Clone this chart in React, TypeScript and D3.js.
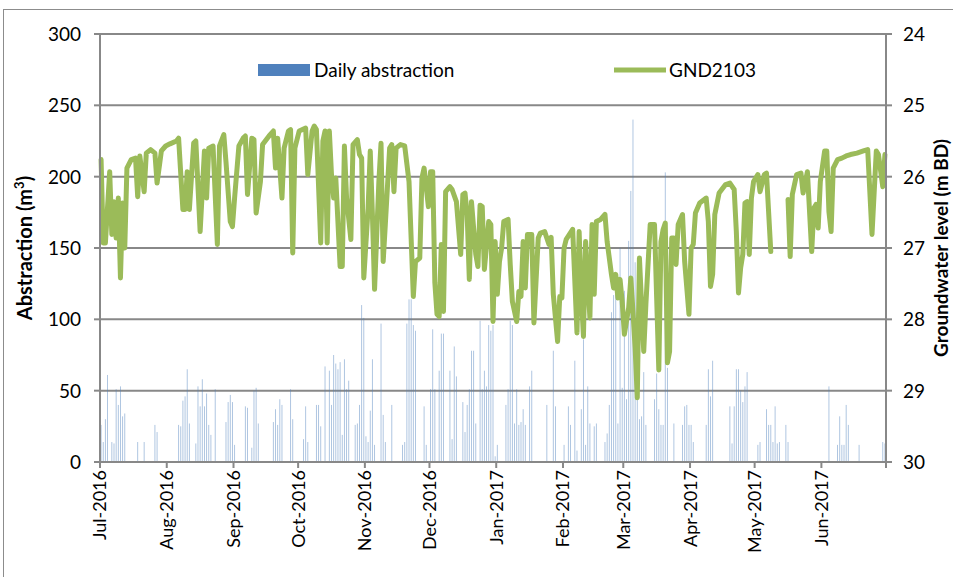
import React, { useEffect, useRef } from 'react';
import * as d3 from 'd3';

// first day of the record, and end of the time axis
const START = new Date(Date.UTC(2016, 6, 1));
const END = new Date(Date.UTC(2017, 6, 1));

// daily abstraction (m3), one value per day, month by month
const abstractionJul = [26, 14, 30, 61, 0, 14, 13, 51, 40, 53, 32, 34, 0, 0, 0, 0, 0, 14, 0, 0, 14, 0, 0, 0, 0, 26, 21, 0, 0, 0, 0];
const abstractionAug = [0, 0, 0, 0, 0, 26, 25, 43, 46, 65, 27, 0, 0, 13, 53, 39, 58, 39, 48, 26, 19, 0, 51, 0, 0, 0, 0, 28, 42, 47, 42];
const abstractionSep = [12, 0, 0, 0, 0, 39, 38, 0, 10, 50, 52, 27, 0, 0, 0, 0, 0, 0, 28, 37, 26, 44, 40, 0, 0, 0, 51, 30, 0, 0];
const abstractionOct = [0, 0, 16, 39, 14, 0, 0, 0, 40, 40, 25, 0, 67, 0, 64, 40, 75, 69, 65, 70, 19, 72, 51, 57, 0, 0, 26, 27, 40, 110, 101];
const abstractionNov = [18, 14, 36, 72, 12, 0, 0, 97, 33, 14, 0, 0, 40, 0, 0, 0, 0, 12, 14, 97, 114, 114, 96, 92, 0, 0, 0, 39, 12, 0];
const abstractionDec = [51, 93, 51, 0, 64, 90, 90, 0, 0, 64, 16, 81, 60, 0, 0, 42, 21, 40, 51, 78, 78, 27, 0, 99, 51, 64, 53, 96, 92, 96, 4];
const abstractionJan = [12, 0, 0, 0, 40, 51, 99, 96, 27, 51, 26, 28, 37, 26, 0, 53, 64, 0, 0, 0, 0, 0, 0, 40, 0, 0, 78, 39, 0, 0, 0];
const abstractionFeb = [12, 0, 39, 26, 0, 71, 8, 0, 37, 86, 12, 53, 27, 0, 25, 27, 0, 0, 0, 14, 20, 40, 105, 117, 133, 27, 150, 52];
const abstractionMar = [120, 44, 155, 190, 240, 140, 104, 30, 32, 63, 26, 0, 0, 0, 44, 62, 37, 26, 26, 203, 66, 0, 0, 27, 0, 0, 0, 26, 39, 40, 26];
const abstractionApr = [26, 14, 0, 0, 0, 0, 0, 26, 65, 46, 71, 0, 0, 0, 0, 0, 0, 0, 39, 13, 39, 65, 65, 50, 42, 53, 63, 0, 0, 0];
const abstractionMay = [0, 12, 14, 0, 0, 37, 26, 26, 14, 39, 13, 14, 0, 0, 26, 14, 0, 0, 0, 0, 0, 0, 0, 0, 0, 0, 0, 0, 0, 0, 0];
const abstractionJun = [0, 0, 0, 53, 0, 0, 0, 12, 32, 12, 12, 40, 26, 0, 0, 0, 0, 12, 0, 0, 0, 0, 0, 0, 0, 0, 0, 0, 14, 13];

const abstraction = [
    ...abstractionJul, ...abstractionAug, ...abstractionSep, ...abstractionOct,
    ...abstractionNov, ...abstractionDec, ...abstractionJan, ...abstractionFeb,
    ...abstractionMar, ...abstractionApr, ...abstractionMay, ...abstractionJun,
];

// GND2103 groundwater level (m BD): [day since 1 Jul 2016, level]; null = no reading (gap)
const gnd2103: [number, number | null][] = [
    [0, 25.76], [1, 26.93], [2, 26.93], [4, 25.93], [5, 26.81], [6, 26.35], [7, 26.86], [8, 26.30], [9, 27.42], [10, 26.37],
    [11, 27.00], [12, 25.88], [14, 25.76], [16, 25.74], [17, 26.28], [18, 25.71], [20, 26.21], [21, 25.67], [23, 25.62], [25, 25.67],
    [26, 26.09], [28, 25.64], [30, 25.57], [32, 25.54], [35, 25.50], [36, 25.46], [38, 26.46], [39, 26.46], [40, 25.93], [41, 26.46],
    [43, 25.53], [44, 25.50], [46, 26.77], [48, 25.64], [49, 26.30], [50, 25.60], [52, 25.57], [54, 26.95], [55, 25.57], [57, 25.41],
    [58, 25.79], [60, 26.63], [61, 26.70], [62, 26.30], [64, 25.57], [66, 25.46], [67, 25.43], [68, 26.25], [70, 25.46], [71, 25.48],
    [72, 26.51], [74, 26.07], [75, 25.55], [78, 25.43], [80, 25.36], [81, 25.88], [82, 25.46], [84, 26.30], [85, 25.60], [87, 25.36],
    [88, 25.34], [89, 27.07], [90, 25.60], [92, 25.36], [95, 25.32], [96, 25.97], [98, 25.36], [99, 25.29], [100, 25.34], [102, 26.93],
    [103, 25.50], [104, 25.36], [105, 26.93], [106, 25.36], [107, 25.97], [108, 26.30], [109, 26.02], [111, 27.26], [112, 27.26], [113, 25.57],
    [114, 26.30], [116, 26.88], [117, 25.55], [119, 25.48], [120, 25.69], [121, 25.74], [122, 27.42], [124, 26.44], [125, 25.64], [126, 26.53],
    [127, 27.58], [129, 26.07], [130, 25.53], [131, 27.19], [132, 26.67], [134, 25.60], [135, 25.55], [136, 26.21], [137, 25.60], [139, 25.55],
    [141, 25.57], [143, 26.07], [145, 27.68], [146, 27.19], [148, 27.14], [149, 26.02], [150, 25.88], [152, 26.42], [153, 25.93], [154, 25.93],
    [155, 27.49], [156, 27.93], [157, 27.96], [158, 26.95], [159, 27.89], [160, 26.21], [162, 26.14], [163, 26.18], [165, 26.35], [167, 27.09],
    [168, 26.25], [169, 26.23], [170, 26.53], [171, 27.44], [172, 26.35], [174, 27.09], [175, 27.26], [176, 26.40], [177, 26.42], [178, 27.30],
    [180, 26.63], [181, 26.67], [182, 28.03], [183, 26.91], [184, 27.65], [185, 27.19], [186, 27.00], [187, 26.63], [189, 26.60], [190, 27.23],
    [191, 27.75], [193, 28.03], [194, 27.61], [195, 27.68], [196, 26.91], [197, 27.56], [198, 26.81], [200, 26.81], [201, 28.05], [203, 26.86],
    [204, 26.79], [206, 26.77], [208, 26.95], [209, 26.85], [210, 27.65], [212, 28.31], [213, 27.68], [214, 27.70], [215, 27.00], [216, 26.88],
    [219, 26.74], [221, 28.19], [222, 26.77], [223, 27.65], [224, 28.24], [225, 26.91], [227, 27.98], [228, 26.67], [229, 27.65], [230, 26.63],
    [232, 26.60], [234, 26.53], [235, 26.91], [237, 27.37], [238, 27.56], [239, 27.37], [240, 27.70], [241, 27.44], [242, 27.75], [243, 28.21],
    [245, 27.84], [246, 27.42], [247, 27.89], [248, 28.40], [249, 29.10], [250, 27.14], [252, 28.45], [253, 27.79], [255, 26.67], [257, 26.67],
    [258, 27.70], [259, 28.71], [260, 26.91], [261, 26.74], [262, 26.65], [263, 28.61], [264, 28.45], [265, 26.86], [266, 26.86], [267, 27.23],
    [268, 26.67], [270, 26.53], [271, 27.19], [273, 27.93], [274, 27.00], [275, 26.95], [276, 26.51], [278, 26.37], [281, 26.30], [282, 26.63],
    [283, 27.54], [284, 27.37], [285, 26.53], [287, 26.23], [290, 26.11], [292, 26.09], [294, 26.18], [295, 26.77], [296, 27.63], [297, 27.28],
    [298, 27.09], [299, 26.37], [300, 26.35], [301, 27.09], [302, 26.30], [303, 26.07], [305, 25.97], [306, 26.21], [308, 25.97], [309, 25.95],
    [311, 27.05], [312, null],
    [319, 26.32], [320, 27.12], [321, 26.25], [323, 25.97], [325, 25.95], [326, 26.23], [328, 25.93], [330, 27.05], [331, 26.44], [332, 26.39],
    [333, 26.72], [334, 26.07], [336, 25.64], [337, 25.64], [338, 26.49], [339, 26.77], [340, 25.88], [342, 25.76], [344, 25.74], [346, 25.71],
    [348, 25.69], [351, 25.67], [354, 25.64], [356, 25.62], [358, 26.81], [360, 25.64], [361, 25.69], [363, 26.14], [364, 25.69],
];

const abstractionTicks = [0, 50, 100, 150, 200, 250, 300];
const levelTicks = [24, 25, 26, 27, 28, 29, 30];

const WIDTH = 953;
const HEIGHT = 577;
const FONT = "Lato, 'Liberation Sans', sans-serif";
const GRID = '#888888';
const BLUE = '#4f81bd';
const GREEN = '#9bbb59';

const App = () => {
    const ref = useRef<SVGSVGElement>(null);

    useEffect(() => {
        const plot = { left: 100, right: 886, top: 34, bottom: 462 };

        const x = d3.scaleUtc().domain([START, END]).range([plot.left, plot.right]);
        const yLeft = d3.scaleLinear().domain([0, 300]).range([plot.bottom, plot.top]);
        const yRight = d3.scaleLinear().domain([24, 30]).range([plot.top, plot.bottom]);
        const day = (i: number) => d3.utcDay.offset(START, i);
        const slot = x(day(1)) - x(START);

        const svg = d3.select(ref.current);
        svg.selectAll('*').remove();
        svg.style('font-family', FONT);

        // chart frame
        svg.append('rect')
            .attr('x', 3.5).attr('y', 9.5)
            .attr('width', WIDTH).attr('height', HEIGHT)
            .attr('fill', 'white').attr('stroke', '#8c8c8c').attr('stroke-width', 1);

        // horizontal gridlines
        svg.append('g')
            .selectAll('line')
            .data(abstractionTicks)
            .join('line')
            .attr('x1', plot.left).attr('x2', plot.right)
            .attr('y1', d => yLeft(d)).attr('y2', d => yLeft(d))
            .attr('stroke', GRID).attr('stroke-width', 2);

        // daily abstraction bars
        const barW = 0.9;
        svg.append('g')
            .attr('fill', BLUE)
            .attr('fill-opacity', 0.5)
            .selectAll('rect')
            .data(abstraction.map((v, i) => ({ i, v })).filter(d => d.v > 0))
            .join('rect')
            .attr('x', d => x(day(d.i)) + slot / 2 - barW / 2)
            .attr('width', barW)
            .attr('y', d => yLeft(d.v))
            .attr('height', d => yLeft(0) - yLeft(d.v));

        // groundwater level line
        const line = d3.line<[number, number | null]>()
            .defined(d => d[1] !== null)
            .x(d => x(day(d[0])) + slot / 2)
            .y(d => yRight(d[1] as number));

        svg.append('path')
            .datum(gnd2103)
            .attr('d', line)
            .attr('fill', 'none')
            .attr('stroke', GREEN)
            .attr('stroke-width', 5)
            .attr('stroke-linejoin', 'round')
            .attr('stroke-linecap', 'round');

        // axis lines and ticks
        const axes = svg.append('g').attr('stroke', GRID).attr('stroke-width', 2);
        axes.append('line').attr('x1', plot.left).attr('x2', plot.left).attr('y1', plot.top).attr('y2', plot.bottom);
        axes.append('line').attr('x1', plot.right).attr('x2', plot.right).attr('y1', plot.top).attr('y2', plot.bottom);
        axes.append('line').attr('x1', plot.left).attr('x2', plot.right).attr('y1', plot.bottom).attr('y2', plot.bottom);
        axes.selectAll('.tl').data(abstractionTicks).join('line')
            .attr('x1', plot.left - 6).attr('x2', plot.left)
            .attr('y1', d => yLeft(d)).attr('y2', d => yLeft(d));
        axes.selectAll('.tr').data(levelTicks).join('line')
            .attr('x1', plot.right).attr('x2', plot.right + 6)
            .attr('y1', d => yRight(d)).attr('y2', d => yRight(d));

        const months = d3.utcMonth.range(START, d3.utcDay.offset(END, 1));
        axes.selectAll('.tb').data(months).join('line')
            .attr('x1', d => x(d)).attr('x2', d => x(d))
            .attr('y1', plot.bottom).attr('y2', plot.bottom + 6);

        // tick labels
        svg.append('g')
            .attr('font-size', 19)
            .attr('text-anchor', 'end')
            .selectAll('text')
            .data(abstractionTicks)
            .join('text')
            .attr('x', plot.left - 19)
            .attr('y', d => yLeft(d))
            .attr('dy', '0.36em')
            .text(d => d);

        svg.append('g')
            .attr('font-size', 19)
            .attr('text-anchor', 'start')
            .selectAll('text')
            .data(levelTicks)
            .join('text')
            .attr('x', plot.right + 17)
            .attr('y', d => yRight(d))
            .attr('dy', '0.36em')
            .text(d => d);

        const fmt = d3.utcFormat('%b-%Y');
        svg.append('g')
            .attr('font-size', 18)
            .attr('text-anchor', 'end')
            .selectAll('text')
            .data(months.filter(d => d < END))
            .join('text')
            .attr('transform', d => `translate(${x(d)},${plot.bottom + 8}) rotate(-90)`)
            .attr('dy', '0.36em')
            .text(d => fmt(d));

        // axis titles
        const leftTitle = svg.append('text')
            .attr('transform', `translate(32,${(plot.top + plot.bottom) / 2}) rotate(-90)`)
            .attr('text-anchor', 'middle')
            .attr('font-size', 20)
            .attr('font-weight', 'bold');
        leftTitle.append('tspan').text('Abstraction (m');
        leftTitle.append('tspan').attr('dy', -8).attr('font-size', 13).text('3');
        leftTitle.append('tspan').attr('dy', 8).text(')');

        svg.append('text')
            .attr('transform', `translate(942,${(plot.top + plot.bottom) / 2}) rotate(-90)`)
            .attr('text-anchor', 'middle')
            .attr('dy', '0.34em')
            .attr('font-size', 19)
            .attr('font-weight', 'bold')
            .text('Groundwater level (m BD)');

        // legend
        const legend = svg.append('g').attr('font-size', 19);
        legend.append('rect')
            .attr('x', 258).attr('y', 64).attr('width', 52).attr('height', 12)
            .attr('fill', BLUE);
        legend.append('text')
            .attr('x', 314).attr('y', 70).attr('dy', '0.36em')
            .text('Daily abstraction');
        legend.append('line')
            .attr('x1', 614).attr('x2', 666).attr('y1', 70).attr('y2', 70)
            .attr('stroke', GREEN).attr('stroke-width', 5);
        legend.append('text')
            .attr('x', 669).attr('y', 70).attr('dy', '0.36em')
            .text('GND2103');
    }, []);

    return (
        <svg
            ref={ref}
            width={WIDTH}
            height={HEIGHT}
            style={{ position: 'absolute', left: 0, top: 0 }}
        />
    );
};

export default App;
